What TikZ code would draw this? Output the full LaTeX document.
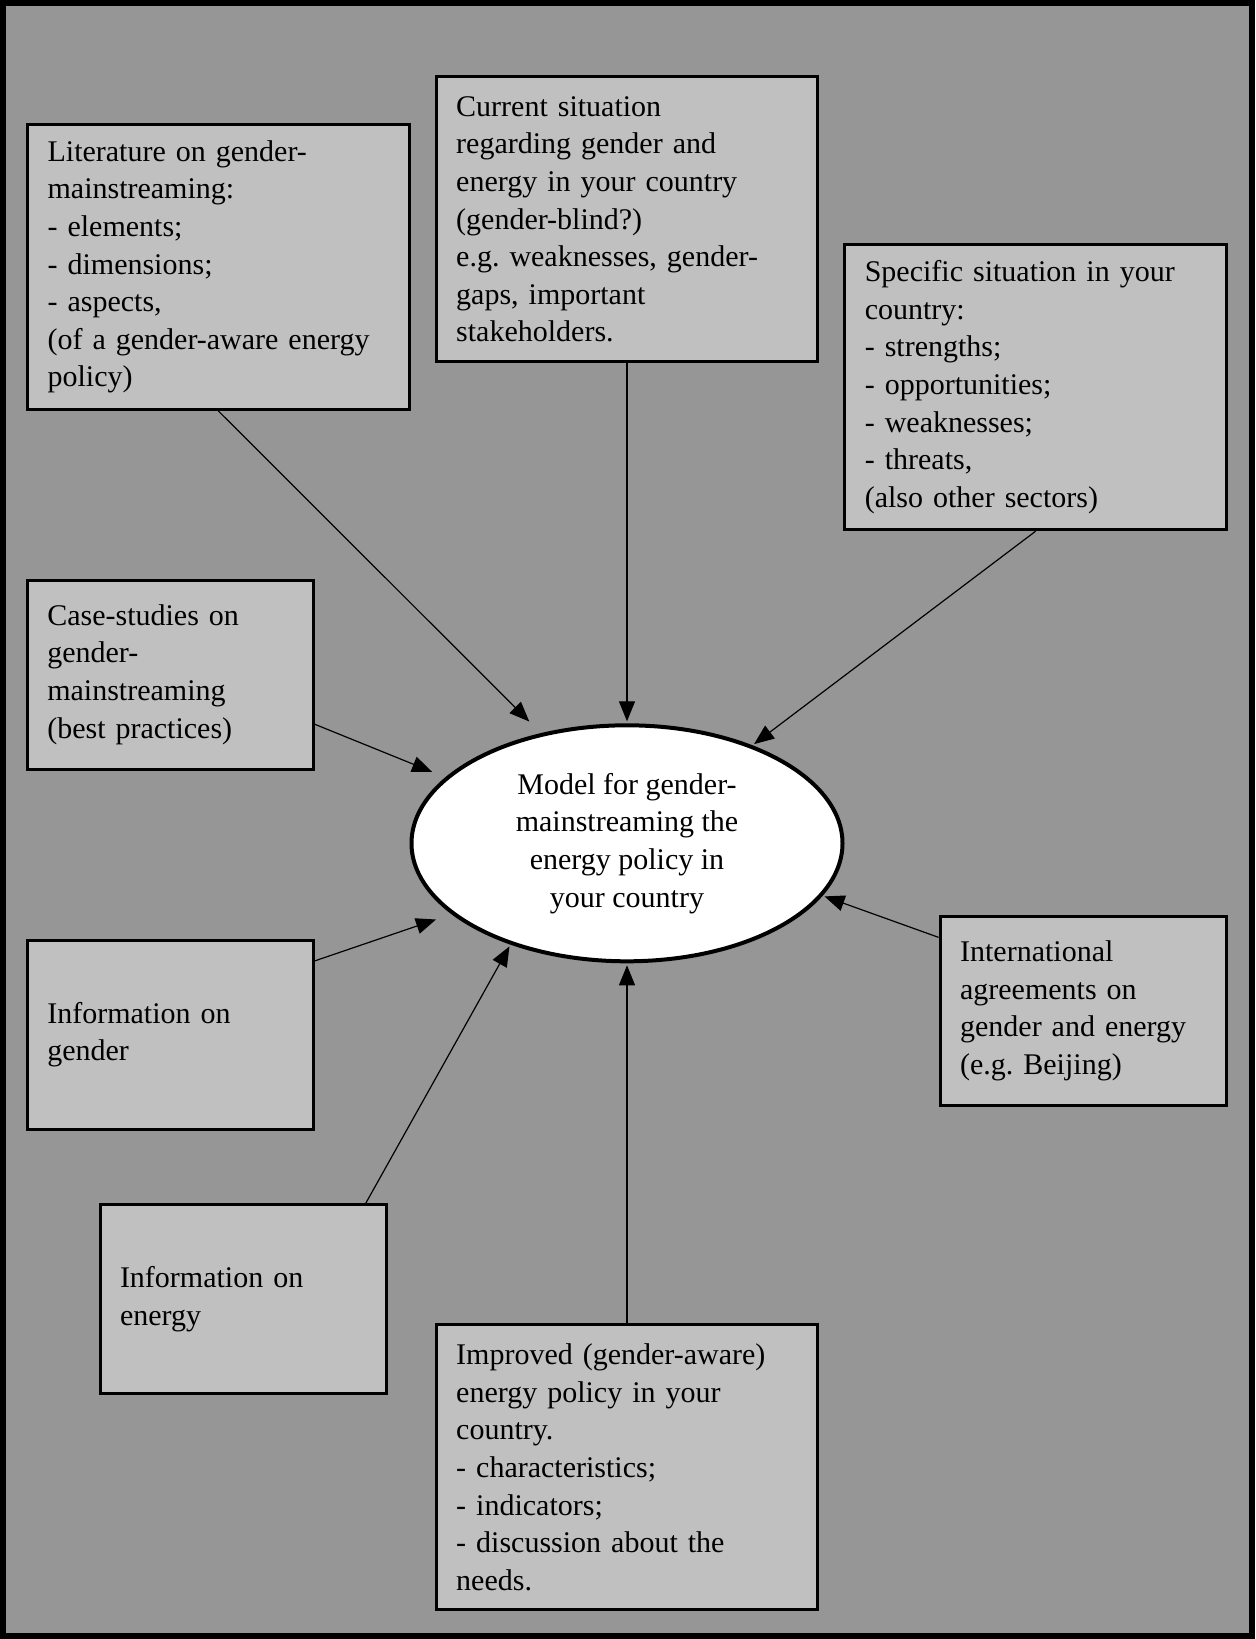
\documentclass[tikz,border=0pt]{standalone}
\usepackage{fontspec}
\setmainfont{Liberation Serif}
\usetikzlibrary{shapes.geometric}
\usetikzlibrary{positioning}
\usetikzlibrary{arrows.meta}
\definecolor{bggray}{RGB}{150,150,150}
\definecolor{boxgray}{RGB}{192,192,192}
\frenchspacing
\tikzstyle{bigbox} = [rectangle, draw, line width=1.5pt, fill=boxgray,
    minimum width=190.8pt, minimum height=142.5pt, text width=170.8pt,
    inner xsep=10pt, align=left, font=\fontsize{15}{18.8}\selectfont]
\tikzstyle{smallbox} = [bigbox, minimum width=143pt, minimum height=94.5pt,
    text width=123pt]
\tikzstyle{model} = [ellipse, draw, line width=2pt, fill=white,
    minimum width=215.5pt, minimum height=118pt, inner sep=0pt,
    align=center, font=\fontsize{15}{18.8}\selectfont]
\tikzstyle{line} = [draw, line width=0.6pt,
    -{Triangle[length=10pt,width=8pt]}, shorten >=1pt]

\begin{document}
\begin{tikzpicture}[x=0.5pt, y=-0.5pt, node distance=312pt, auto]
    \useasboundingbox (0,0) rectangle (1255,1639);
    % Draw frame
    \draw [fill=bggray, line width=3pt] (3,3) rectangle (1252,1636);
    % Place nodes
    \node [model] (model) at (627,843.3) {Model for gender-\\mainstreaming the\\energy policy in\\your country};
    \node [bigbox, above of=model] (current) {Current situation\\regarding gender and\\energy in your country\\(gender-blind?)\\e.g. weaknesses, gender-\\gaps, important\\stakeholders.};
    \node [bigbox, below of=model] (improved) {Improved (gender-aware)\\energy policy in your\\country.\\- characteristics;\\- indicators;\\- discussion about the\\needs.};
    \node [bigbox] (literature) at (218.4,267) {Literature on gender-\\mainstreaming:\\- elements;\\- dimensions;\\- aspects,\\(of a gender-aware energy\\policy)};
    \node [bigbox] (specific) at (1035.6,387.2) {Specific situation in your\\country:\\- strengths;\\- opportunities;\\- weaknesses;\\- threats,\\(also other sectors)};
    \node [smallbox] (cases) at (170.3,674.5) {Case-studies on\\gender-\\mainstreaming\\(best practices)};
    \node [smallbox, below of=cases, node distance=180pt] (gender) {Information on\\gender};
    \node [smallbox] (energy) at (243,1299) {Information on\\energy};
    \node [smallbox] (agreements) at (1083.1,1011) {International\\agreements on\\gender and energy\\(e.g. Beijing)};
    % Draw edges
    \path [line] (current.south) -- (model.north);
    \path [line] (improved.north) -- (model.south);
    \path [line, shorten >=8.2pt] (literature.south) -- (model.128);
    \path [line] (specific.south) -- (model.38);
    \path [line, shorten >=7.2pt] (cases.341) -- (model.160);
    \path [line, shorten >=8.2pt] (gender.27) -- (model.202);
    \path [line] (energy.38) -- (model.221);
    \path [line] (agreements.153) -- (model.345);
\end{tikzpicture}
\end{document}
